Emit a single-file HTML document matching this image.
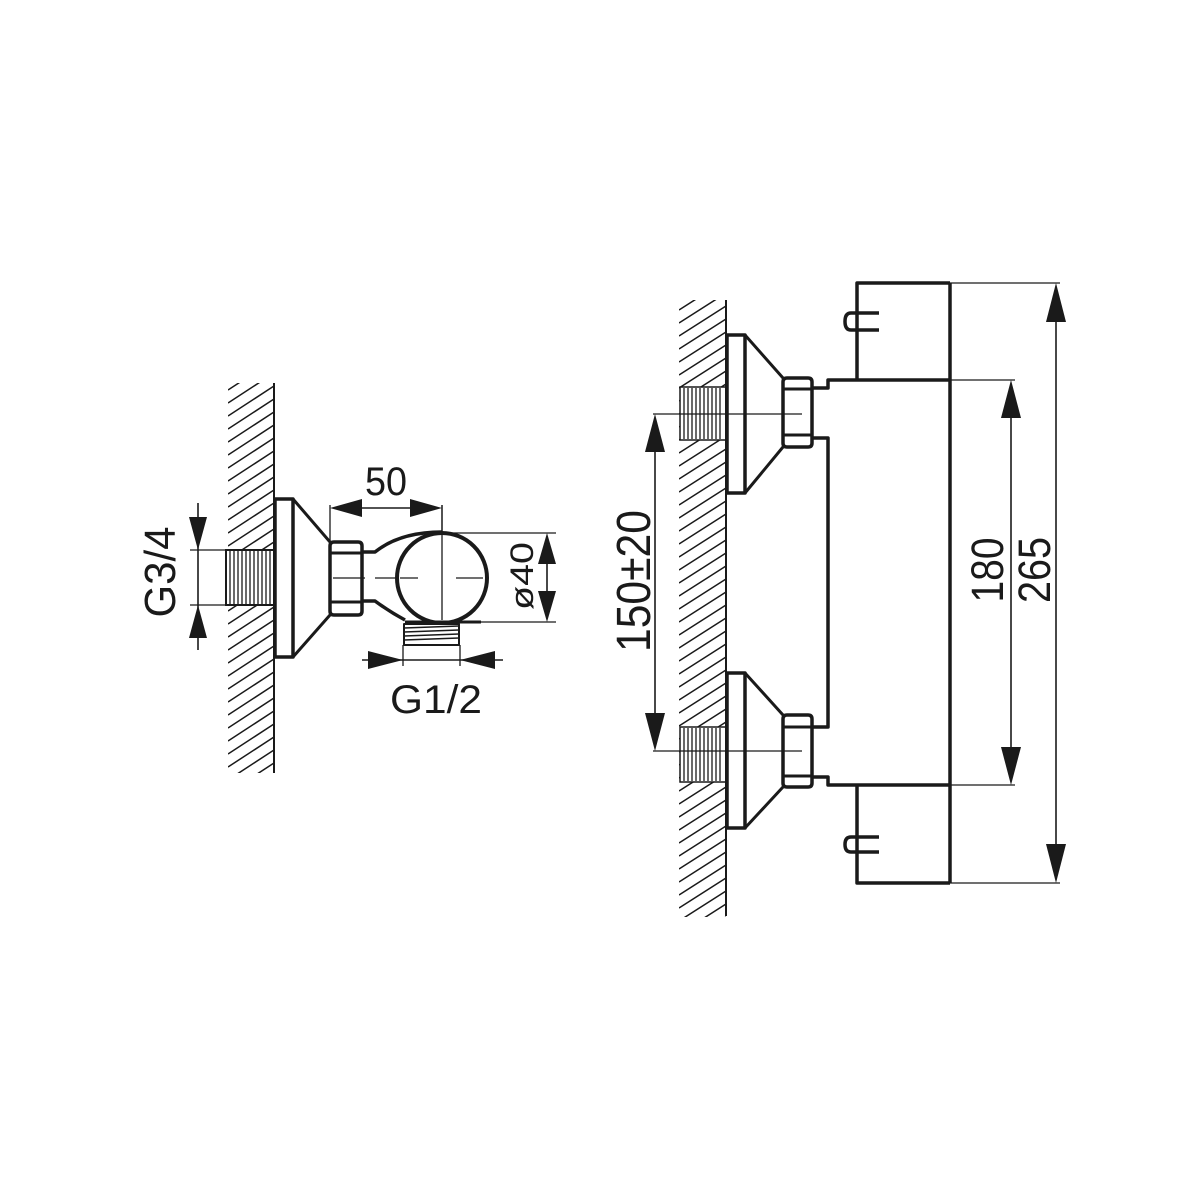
<!DOCTYPE html>
<html><head><meta charset="utf-8"><style>html,body{margin:0;padding:0;background:#fff}svg{display:block}text{font-family:"Liberation Sans",sans-serif;fill:#1a1a1a}</style></head>
<body>
<svg width="1200" height="1200" viewBox="0 0 1200 1200" xmlns="http://www.w3.org/2000/svg">
<defs>
<clipPath id="wl"><rect x="228" y="383" width="46" height="390"/></clipPath>
<clipPath id="wr"><rect x="679" y="300" width="47" height="617"/></clipPath>
</defs>
<rect width="1200" height="1200" fill="#fff"/>

<!-- hatching lines -->
<g clip-path="url(#wl)" stroke="#1a1a1a" stroke-width="1.5">
<path d="M228 390l46-30M228 403l46-30M228 416l46-30M228 429l46-30M228 442l46-30M228 455l46-30M228 468l46-30M228 481l46-30M228 494l46-30M228 507l46-30M228 520l46-30M228 533l46-30M228 546l46-30M228 559l46-30M228 572l46-30M228 585l46-30M228 598l46-30M228 611l46-30M228 624l46-30M228 637l46-30M228 650l46-30M228 663l46-30M228 676l46-30M228 689l46-30M228 702l46-30M228 715l46-30M228 728l46-30M228 741l46-30M228 754l46-30M228 767l46-30M228 780l46-30M228 793l46-30M228 806l46-30"/>
</g>
<g clip-path="url(#wr)" stroke="#1a1a1a" stroke-width="1.5">
<path d="M679 310l47-30M679 323l47-30M679 336l47-30M679 349l47-30M679 362l47-30M679 375l47-30M679 388l47-30M679 401l47-30M679 414l47-30M679 427l47-30M679 440l47-30M679 453l47-30M679 466l47-30M679 479l47-30M679 492l47-30M679 505l47-30M679 518l47-30M679 531l47-30M679 544l47-30M679 557l47-30M679 570l47-30M679 583l47-30M679 596l47-30M679 609l47-30M679 622l47-30M679 635l47-30M679 648l47-30M679 661l47-30M679 674l47-30M679 687l47-30M679 700l47-30M679 713l47-30M679 726l47-30M679 739l47-30M679 752l47-30M679 765l47-30M679 778l47-30M679 791l47-30M679 804l47-30M679 817l47-30M679 830l47-30M679 843l47-30M679 856l47-30M679 869l47-30M679 882l47-30M679 895l47-30M679 908l47-30M679 921l47-30M679 934l47-30M679 947l47-30"/>
</g>
<!-- threads (cover hatching) -->
<g fill="#fff" stroke="#1a1a1a">
<rect x="226" y="550" width="48" height="55" stroke-width="2"/>
<rect x="680" y="387" width="46" height="53" stroke-width="1.5"/>
<rect x="680" y="727" width="46" height="55" stroke-width="1.5"/>
</g>
<g stroke="#1a1a1a" stroke-width="1.3">
<path d="M230 551v53M234 551v53M238 551v53M242 551v53M246 551v53M250 551v53M254 551v53M258 551v53M262 551v53M266 551v53M270 551v53"/>
<path d="M684 388v51M688 388v51M692 388v51M696 388v51M700 388v51M704 388v51M708 388v51M712 388v51M716 388v51M720 388v51"/>
<path d="M684 728v53M688 728v53M692 728v53M696 728v53M700 728v53M704 728v53M708 728v53M712 728v53M716 728v53M720 728v53"/>
</g>

<g stroke="#1a1a1a" fill="none" stroke-linejoin="round">
<!-- LEFT DRAWING -->
<line x1="274" y1="383" x2="274" y2="773" stroke-width="2"/>
<rect x="275" y="499" width="18" height="158" stroke-width="3.5" fill="#fff"/>
<path d="M293 499 L330 542 M293 657 L330 615" stroke-width="3"/>
<path d="M334 542 H358 Q362 542 362 546 V611 Q362 615 358 615 H334 Q330 615 330 611 V546 Q330 542 334 542 Z" stroke-width="3.5"/>
<path d="M331 553 H361 M331 602 H361" stroke-width="3"/>
<path d="M362 552 H375 Q400 532 442 532" stroke-width="3.5"/>
<path d="M362 601 H375 Q390 612 405 620" stroke-width="3.5"/>
<circle cx="442" cy="578" r="45" stroke-width="4"/>
<path d="M333 578 H365 M375 578 H395 M400 578 H418 M456 578 H483" stroke-width="1.3"/>
<path d="M442 505 V620" stroke-width="1.3"/>
<path d="M405 622 H481" stroke-width="3"/>
<rect x="404" y="624" width="55" height="21" stroke-width="2"/>
<path d="M404 628 L459 626 M404 632 L459 630 M404 636 L459 634 M404 640 L459 638" stroke-width="1.5"/>
<path d="M330 505 V542 M442 505 V532" stroke-width="1.3"/>
<line x1="345" y1="508" x2="427" y2="508" stroke-width="1.6"/>
<path d="M442 533 H556 M442 622 H556" stroke-width="1.3"/>
<line x1="547" y1="545" x2="547" y2="610" stroke-width="1.6"/>
<path d="M190 550 H226 M190 605 H226" stroke-width="1.3"/>
<line x1="198" y1="503" x2="198" y2="650" stroke-width="1.6"/>
<path d="M403 645 V666 M460 645 V666" stroke-width="1.3"/>
<line x1="362" y1="660" x2="503" y2="660" stroke-width="1.6"/>

<!-- RIGHT DRAWING -->
<line x1="726" y1="300" x2="726" y2="916" stroke-width="2"/>
<rect x="727" y="335" width="18" height="158" stroke-width="3.5" fill="#fff"/>
<path d="M745 335 L783 378 M745 493 L783 447" stroke-width="3"/>
<rect x="727" y="673" width="18" height="155" stroke-width="3.5" fill="#fff"/>
<path d="M745 673 L783 715 M745 828 L783 787" stroke-width="3"/>
<path d="M787 378 H808 Q812 378 812 382 V443 Q812 447 808 447 H787 Q783 447 783 443 V382 Q783 378 787 378 Z" stroke-width="3.5"/>
<path d="M784 389 H811 M784 435 H811" stroke-width="3"/>
<path d="M787 715 H808 Q812 715 812 719 V783 Q812 787 808 787 H787 Q783 787 783 783 V719 Q783 715 787 715 Z" stroke-width="3.5"/>
<path d="M784 727 H811 M784 776 H811" stroke-width="3"/>
<path d="M812 388 H828 V380 H950" stroke-width="3.5"/>
<path d="M812 438 H828 V727 H812" stroke-width="3.5"/>
<path d="M812 777 H828 V785 H950" stroke-width="3.5"/>
<line x1="950" y1="283" x2="950" y2="883" stroke-width="3.5"/>
<path d="M857 380 V283 H950" stroke-width="3.5"/>
<path d="M879 313 H851 Q845 313 845 321.5 Q845 330 851 330 H879" stroke-width="3.5"/>
<path d="M857 785 V883 H950" stroke-width="3.5"/>
<path d="M879 837 H851 Q845 837 845 844.5 Q845 852 851 852 H879" stroke-width="3.5"/>
<path d="M653 414 H802 M653 751 H802" stroke-width="1.3"/>
<path d="M950 283 H1060 M950 883 H1060 M950 380 H1015 M950 785 H1015" stroke-width="1.3"/>
<line x1="1056" y1="300" x2="1056" y2="866" stroke-width="1.6"/>
<line x1="1011" y1="397" x2="1011" y2="768" stroke-width="1.6"/>
<line x1="655" y1="430" x2="655" y2="735" stroke-width="1.6"/>
</g>

<g fill="#1a1a1a">
<path d="M330 508 L362 499 L362 517 Z"/><path d="M442 508 L410 499 L410 517 Z"/>
<path d="M547 533 L538 564 L556 564 Z"/><path d="M547 622 L538 591 L556 591 Z"/>
<path d="M198 550 L189 517 L207 517 Z"/><path d="M198 605 L189 638 L207 638 Z"/>
<path d="M403 660 L368 651 L368 669 Z"/><path d="M460 660 L495 651 L495 669 Z"/>
<path d="M1056 283 L1046 322 L1066 322 Z"/><path d="M1056 883 L1046 844 L1066 844 Z"/>
<path d="M1011 380 L1001 418 L1021 418 Z"/><path d="M1011 785 L1001 747 L1021 747 Z"/>
<path d="M655 414 L645 452 L665 452 Z"/><path d="M655 751 L645 713 L665 713 Z"/>
</g>

<text x="386" y="495" font-size="40" text-anchor="middle" textLength="42" lengthAdjust="spacingAndGlyphs">50</text>
<text x="436" y="713" font-size="40" text-anchor="middle" textLength="92" lengthAdjust="spacingAndGlyphs">G1/2</text>
<text transform="translate(175,572) rotate(-90)" font-size="44" text-anchor="middle" textLength="91" lengthAdjust="spacingAndGlyphs">G3/4</text>
<text transform="translate(533,576) rotate(-90)" font-size="32" text-anchor="middle" textLength="68" lengthAdjust="spacingAndGlyphs">ø40</text>
<text transform="translate(650,581) rotate(-90)" font-size="48" text-anchor="middle" textLength="142" lengthAdjust="spacingAndGlyphs">150±20</text>
<text transform="translate(1003,570) rotate(-90)" font-size="45" text-anchor="middle" textLength="65" lengthAdjust="spacingAndGlyphs">180</text>
<text transform="translate(1050,570) rotate(-90)" font-size="45" text-anchor="middle" textLength="66" lengthAdjust="spacingAndGlyphs">265</text>
</svg>
</body></html>
